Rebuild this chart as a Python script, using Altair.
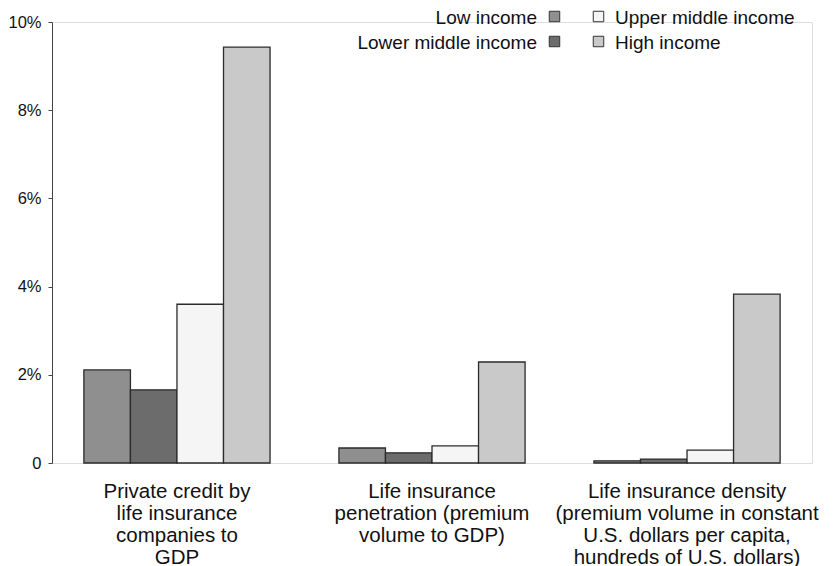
import altair as alt
import pandas as pd

categories = [
    "Private credit by|life insurance|companies to|GDP",
    "Life insurance|penetration (premium|volume to GDP)",
    "Life insurance density|(premium volume in constant|U.S. dollars per capita,|hundreds of U.S. dollars)",
]
incomes = ["Low income", "Lower middle income", "Upper middle income", "High income"]
colors = ["#8f8f8f", "#6c6c6c", "#f5f5f5", "#c9c9c9"]

low_income = [2.11, 0.34, 0.05]
lower_middle = [1.66, 0.23, 0.09]
upper_middle = [3.60, 0.39, 0.29]
high_income = [9.43, 2.29, 3.83]

series = [low_income, lower_middle, upper_middle, high_income]
rows = []
for inc, vals in zip(incomes, series):
    for cat, v in zip(categories, vals):
        rows.append({"category": cat, "income": inc, "value": v})
df = pd.DataFrame(rows)

FONT = "Liberation Sans"

bars = alt.Chart(df).mark_bar(stroke="#2b2b2b", strokeWidth=1.3).encode(
    x=alt.X(
        "category:N",
        sort=categories,
        title=None,
        scale=alt.Scale(paddingInner=0.27, paddingOuter=0.125),
        axis=alt.Axis(
            domain=False,
            ticks=False,
            labelAngle=0,
            labelExpr="split(datum.label, '|')",
            labelFontSize=20.5,
            labelLineHeight=22,
            labelPadding=28,
            labelLimit=500,
            labelFont=FONT,
            labelColor="#111",
            labelBaseline="middle",
        ),
    ),
    xOffset=alt.XOffset("income:N", sort=incomes, scale=alt.Scale(paddingInner=0, paddingOuter=0)),
    y=alt.Y(
        "value:Q",
        title=None,
        scale=alt.Scale(domain=[0, 10], nice=False),
        axis=alt.Axis(
            values=[0, 2, 4, 6, 8, 10],
            labelExpr="datum.value == 0 ? '0' : datum.value + '%'",
            grid=False,
            domainColor="#444",
            tickColor="#444",
            tickSize=4,
            labelFontSize=16.5,
            labelFont=FONT,
            labelColor="#111",
            labelPadding=7,
        ),
    ),
    color=alt.Color("income:N", sort=incomes, scale=alt.Scale(domain=incomes, range=colors), legend=None),
)

# custom legend (two columns: left labels before swatch, right labels after swatch)
legend_layers = []
leg_df = pd.DataFrame({"income": incomes})
row_y = [-4.5, 20.5, -4.5, 20.5]
for i, inc in enumerate(incomes):
    base = alt.Chart(leg_df).transform_filter(alt.datum.income == inc)
    left_col = i < 2
    sq_x = 502.5 if left_col else 546.5
    txt_x = 485 if left_col else 563
    legend_layers.append(
        base.mark_square(size=110, stroke="#333", strokeWidth=1, opacity=1).encode(
            x=alt.value(sq_x),
            y=alt.value(row_y[i] - 1),
            fill=alt.value(colors[i]),
        )
    )
    legend_layers.append(
        base.mark_text(
            align="right" if left_col else "left",
            baseline="middle",
            fontSize=19,
            font=FONT,
            color="#111",
        ).encode(
            x=alt.value(txt_x),
            y=alt.value(row_y[i]),
            text="income:N",
        )
    )

chart = alt.layer(bars, *legend_layers).properties(
    width=760,
    height=441,
    padding={"left": 44, "top": 14, "right": 17, "bottom": 103},
    autosize=alt.AutoSizeParams(type="none"),
).configure_view(stroke=None).configure(background="white")

chart.save("out.html", embed_options={"renderer": "svg", "actions": False})
